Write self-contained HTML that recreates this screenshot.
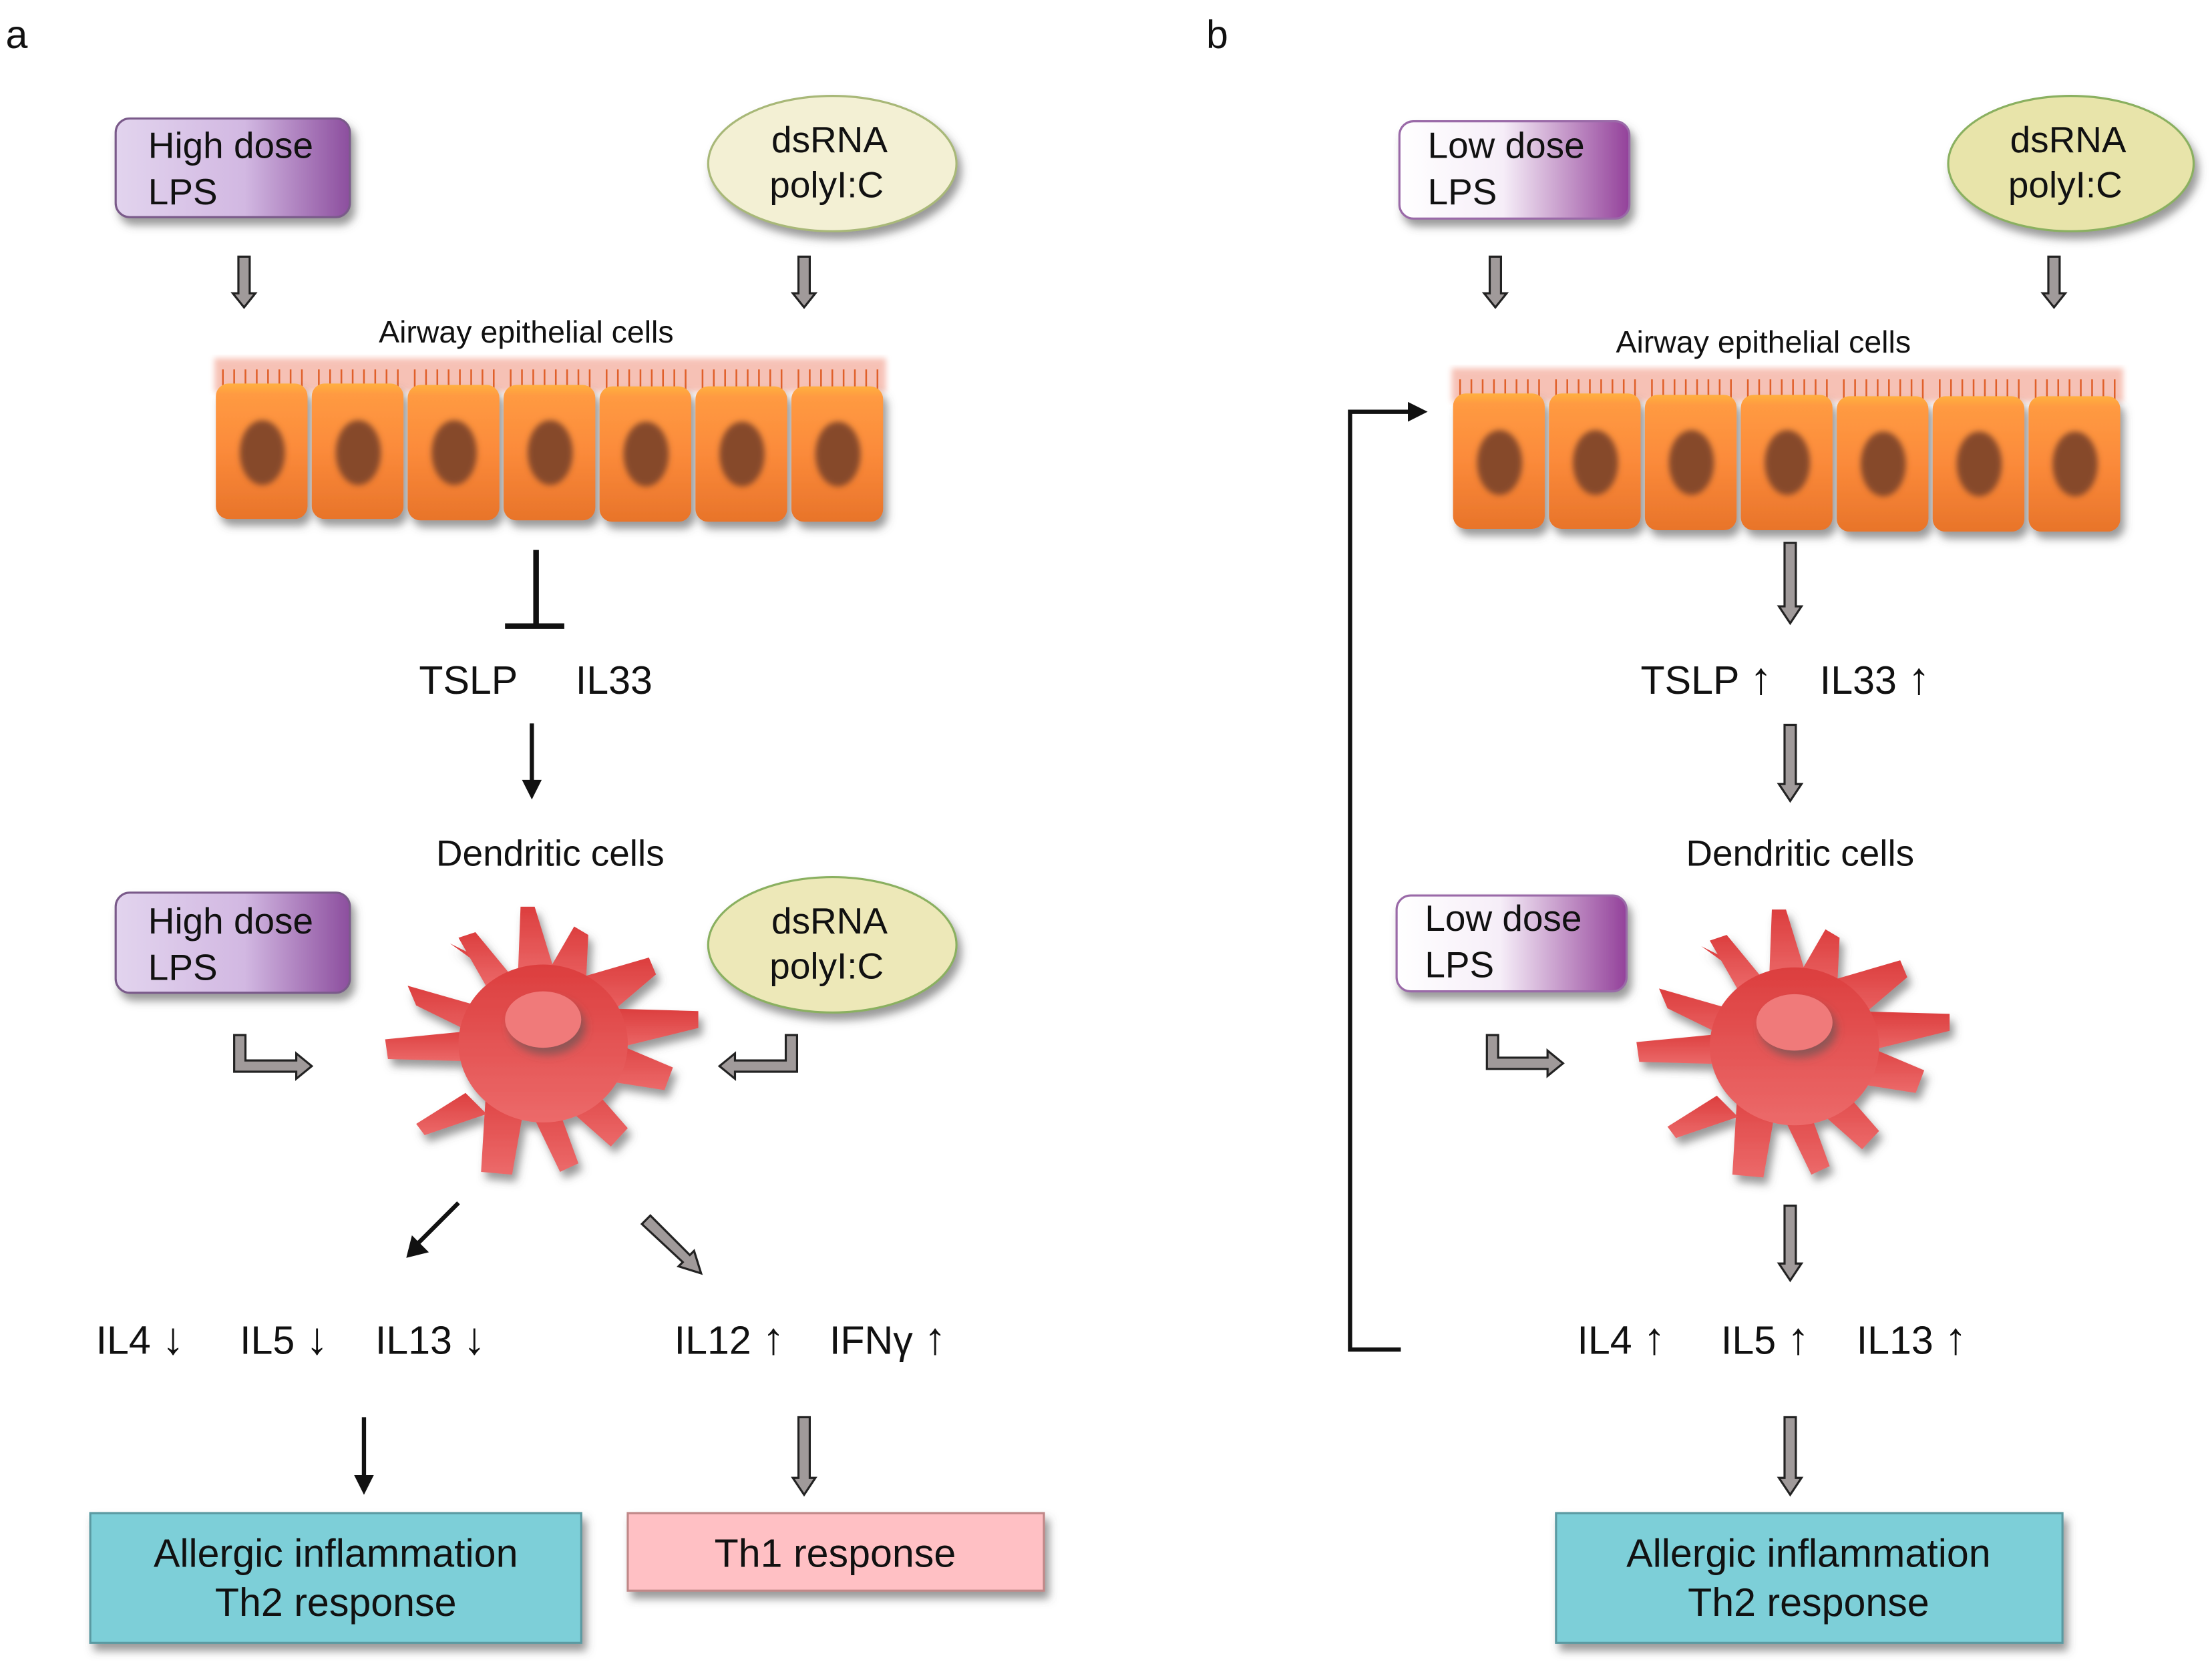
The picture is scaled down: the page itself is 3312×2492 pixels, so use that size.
<!DOCTYPE html>
<html><head><meta charset="utf-8"><style>
html,body{margin:0;padding:0;background:#fff;}
svg{display:block;}
text{font-family:"Liberation Sans",Arial,sans-serif;fill:#111;}
</style></head><body>
<svg width="3312" height="2492" viewBox="0 0 1568 1180" preserveAspectRatio="none" xmlns="http://www.w3.org/2000/svg">
<defs>
<linearGradient id="lpsH" x1="0" x2="1" y1="0" y2="0"><stop offset="0" stop-color="#e2d4ee"/><stop offset="0.55" stop-color="#d2b8e2"/><stop offset="1" stop-color="#8c4e9e"/></linearGradient>
<linearGradient id="lpsL" x1="0" x2="1" y1="0" y2="0"><stop offset="0" stop-color="#ffffff"/><stop offset="0.45" stop-color="#f6eef8"/><stop offset="1" stop-color="#93419a"/></linearGradient>
<linearGradient id="cell" x1="0" x2="0" y1="0" y2="1"><stop offset="0" stop-color="#ffb040"/><stop offset="0.08" stop-color="#ff9a42"/><stop offset="0.5" stop-color="#fb8a3a"/><stop offset="1" stop-color="#e8742a"/></linearGradient>
<linearGradient id="dc" x1="0" x2="0" y1="0" y2="1"><stop offset="0" stop-color="#dc3e3e"/><stop offset="1" stop-color="#ec6a6a"/></linearGradient>
<filter id="sh" x="-20%" y="-20%" width="140%" height="150%"><feDropShadow dx="3" dy="5" stdDeviation="3" flood-color="#555" flood-opacity="0.6"/></filter>
<filter id="bl"><feGaussianBlur stdDeviation="2"/></filter>
<g id="epi">
  <rect x="0" y="0" width="476" height="24" fill="#f0907a" opacity="0.55" filter="url(#bl)"/>
  <g stroke="#e0602a" stroke-width="1.2">
    <path d="M6 8V22M14 8V22M22 8V22M30 8V22M38 8V22M46 8V22M54 8V22M62 8V22M74 8V22M82 8V22M90 8V22M98 8V22M106 8V22M114 8V22M122 8V22M130 8V22M142 8V22M150 8V22M158 8V22M166 8V22M174 8V22M182 8V22M190 8V22M198 8V22M210 8V22M218 8V22M226 8V22M234 8V22M242 8V22M250 8V22M258 8V22M266 8V22M278 8V22M286 8V22M294 8V22M302 8V22M310 8V22M318 8V22M326 8V22M334 8V22M346 8V22M354 8V22M362 8V22M370 8V22M378 8V22M386 8V22M394 8V22M402 8V22M414 8V22M422 8V22M430 8V22M438 8V22M446 8V22M454 8V22M462 8V22M470 8V22"/>
  </g>
  <g filter="url(#sh)">
    <rect x="1" y="18" width="65" height="96" rx="9" fill="url(#cell)"/>
    <rect x="69" y="18" width="65" height="96" rx="9" fill="url(#cell)"/>
    <rect x="137" y="19" width="65" height="96" rx="9" fill="url(#cell)"/>
    <rect x="205" y="19" width="65" height="96" rx="9" fill="url(#cell)"/>
    <rect x="273" y="20" width="65" height="96" rx="9" fill="url(#cell)"/>
    <rect x="341" y="20" width="65" height="96" rx="9" fill="url(#cell)"/>
    <rect x="409" y="20" width="65" height="96" rx="9" fill="url(#cell)"/>
  </g>
  <g fill="#86492a" filter="url(#bl)">
    <ellipse cx="34" cy="67" rx="16" ry="23"/><ellipse cx="102" cy="67" rx="16" ry="23"/><ellipse cx="170" cy="67" rx="16" ry="23"/><ellipse cx="238" cy="67" rx="16" ry="23"/><ellipse cx="306" cy="68" rx="16" ry="23"/><ellipse cx="374" cy="68" rx="16" ry="23"/><ellipse cx="442" cy="68" rx="16" ry="23"/>
  </g>
</g>
<g id="dcell">
  <g filter="url(#sh)" fill="url(#dc)">
    <path d="M-18 -40 L-16 -92 L-6 -92 L10 -40Z"/>
    <path d="M0 -40 L22 -78 L32 -72 L30 -30Z"/>
    <path d="M20 -40 L75 -56 L80 -44 L40 -10Z"/>
    <path d="M40 -20 L110 -18 L110 -6 L45 10Z"/>
    <path d="M40 0 L92 22 L86 38 L35 30Z"/>
    <path d="M25 25 L60 65 L48 78 L5 40Z"/>
    <path d="M5 35 L25 90 L12 96 L-15 40Z"/>
    <path d="M-10 30 L-22 98 L-44 96 L-40 30Z"/>
    <path d="M-40 -5 L-112 2 L-110 16 L-35 18Z"/>
    <path d="M-40 -20 L-96 -36 L-90 -22 L-35 5Z"/>
    <path d="M-30 -40 L-66 -66 L-50 -58 L-10 -30Z"/>
    <path d="M-40 -35 L-60 -70 L-48 -74 L-20 -40Z"/>
    <path d="M-55 40 L-90 62 L-84 70 L-40 55Z"/>
    <ellipse cx="0" cy="5" rx="60" ry="56"/>
  </g>
  <ellipse cx="0" cy="-12" rx="27" ry="20" fill="#f07a7a" filter="url(#sh)"/>
</g>
</defs>

<!-- Panel a -->
<text x="4" y="34" font-size="28">a</text>
<rect x="82" y="84" width="166" height="70" rx="10" fill="url(#lpsH)" stroke="#7a5a8a" stroke-width="1.5" filter="url(#sh)"/>
<text x="105" y="112" font-size="26">High dose</text><text x="105" y="145" font-size="26">LPS</text>
<ellipse cx="590" cy="116" rx="88" ry="48" fill="#f3f0d4" stroke="#a8b878" stroke-width="1.5" filter="url(#sh)"/>
<text x="588" y="108" font-size="26" text-anchor="middle">dsRNA</text><text x="586" y="140" font-size="26" text-anchor="middle">polyI:C</text>
<g fill="#a09a9a" stroke="#222" stroke-width="1.5">
<polygon points="169,182 177,182 177,208 181,208 173,218 165,208 169,208"/>
<polygon points="566,182 574,182 574,208 578,208 570,218 562,208 566,208"/>
</g>
<text x="373" y="243" font-size="22" text-anchor="middle">Airway epithelial cells</text>
<use href="#epi" transform="translate(152,254)"/>
<path d="M380 390V444M358 444H400" stroke="#111" stroke-width="4" fill="none"/>
<text x="297" y="492" font-size="28">TSLP</text><text x="408" y="492" font-size="28">IL33</text>
<path d="M377 513V555" stroke="#111" stroke-width="3"/><polygon points="370,553 384,553 377,567" fill="#111"/>
<text x="390" y="614" font-size="26" text-anchor="middle">Dendritic cells</text>
<rect x="82" y="633" width="166" height="71" rx="10" fill="url(#lpsH)" stroke="#7a5a8a" stroke-width="1.5" filter="url(#sh)"/>
<text x="105" y="662" font-size="26">High dose</text><text x="105" y="695" font-size="26">LPS</text>
<ellipse cx="590" cy="670" rx="88" ry="48" fill="#ede8b8" stroke="#8ab060" stroke-width="1.5" filter="url(#sh)"/>
<text x="588" y="662" font-size="26" text-anchor="middle">dsRNA</text><text x="586" y="694" font-size="26" text-anchor="middle">polyI:C</text>
<use href="#dcell" transform="translate(385,735)"/>
<g fill="#a09a9a" stroke="#222" stroke-width="1.5">
<polygon points="166,734 174,734 174,752 210,752 210,747 221,756 210,765 210,760 166,760"/>
<polygon points="565,734 557,734 557,752 521,752 521,747 510,756 521,765 521,760 565,760"/>
<polygon points="455,868 461,862 489,890 492,887 497,903 481,898 484,895"/>
<polygon points="566,1005 574,1005 574,1048 578,1048 570,1060 562,1048 566,1048"/>
</g>
<path d="M325 853L296 882" stroke="#111" stroke-width="3"/><polygon points="288,892 292,876 304,888" fill="#111"/>
<g font-size="28">
<text x="68" y="960">IL4 <tspan font-size="32">↓</tspan></text><text x="170" y="960">IL5 <tspan font-size="32">↓</tspan></text><text x="266" y="960">IL13 <tspan font-size="32">↓</tspan></text>
<text x="478" y="960">IL12 <tspan font-size="32">↑</tspan></text><text x="588" y="960">IFNγ <tspan font-size="32">↑</tspan></text>
</g>
<path d="M258 1005V1048" stroke="#111" stroke-width="3"/><polygon points="251,1046 265,1046 258,1060" fill="#111"/>
<rect x="64" y="1073" width="348" height="92" fill="#7dcfd8" stroke="#5a9aa2" stroke-width="1.5" filter="url(#sh)"/>
<text x="238" y="1111" font-size="28" text-anchor="middle">Allergic inflammation</text><text x="238" y="1146" font-size="28" text-anchor="middle">Th2 response</text>
<rect x="445" y="1073" width="295" height="55" fill="#ffc0c4" stroke="#c08888" stroke-width="1.5" filter="url(#sh)"/>
<text x="592" y="1111" font-size="28" text-anchor="middle">Th1 response</text>

<!-- Panel b -->
<text x="855" y="34" font-size="28">b</text>
<rect x="992" y="86" width="163" height="69" rx="10" fill="url(#lpsL)" stroke="#9a6aa8" stroke-width="1.5" filter="url(#sh)"/>
<text x="1012" y="112" font-size="26">Low dose</text><text x="1012" y="145" font-size="26">LPS</text>
<ellipse cx="1468" cy="116" rx="87" ry="48" fill="#e8e4aa" stroke="#8ab060" stroke-width="1.5" filter="url(#sh)"/>
<text x="1466" y="108" font-size="26" text-anchor="middle">dsRNA</text><text x="1464" y="140" font-size="26" text-anchor="middle">polyI:C</text>
<g fill="#a09a9a" stroke="#222" stroke-width="1.5">
<polygon points="1056,182 1064,182 1064,208 1068,208 1060,218 1052,208 1056,208"/>
<polygon points="1452,182 1460,182 1460,208 1464,208 1456,218 1448,208 1452,208"/>
<polygon points="1265,385 1273,385 1273,430 1277,430 1269,442 1261,430 1265,430"/>
<polygon points="1265,514 1273,514 1273,556 1277,556 1269,568 1261,556 1265,556"/>
<polygon points="1054,734 1062,734 1062,750 1097,750 1097,745 1108,754 1097,763 1097,758 1054,758"/>
<polygon points="1265,855 1273,855 1273,896 1277,896 1269,908 1261,896 1265,896"/>
<polygon points="1265,1005 1273,1005 1273,1048 1277,1048 1269,1060 1261,1048 1265,1048"/>
</g>
<text x="1250" y="250" font-size="22" text-anchor="middle">Airway epithelial cells</text>
<use href="#epi" transform="translate(1029,261)"/>
<path d="M993 957H957V292H1000" stroke="#111" stroke-width="3" fill="none"/><polygon points="998,285 1012,292 998,299" fill="#111"/>
<g font-size="28">
<text x="1163" y="492">TSLP <tspan font-size="32">↑</tspan></text><text x="1290" y="492">IL33 <tspan font-size="32">↑</tspan></text>
</g>
<text x="1276" y="614" font-size="26" text-anchor="middle">Dendritic cells</text>
<rect x="990" y="635" width="163" height="68" rx="10" fill="url(#lpsL)" stroke="#9a6aa8" stroke-width="1.5" filter="url(#sh)"/>
<text x="1010" y="660" font-size="26">Low dose</text><text x="1010" y="693" font-size="26">LPS</text>
<use href="#dcell" transform="translate(1272,737)"/>
<g font-size="28">
<text x="1118" y="960">IL4 <tspan font-size="32">↑</tspan></text><text x="1220" y="960">IL5 <tspan font-size="32">↑</tspan></text><text x="1316" y="960">IL13 <tspan font-size="32">↑</tspan></text>
</g>
<rect x="1103" y="1073" width="359" height="92" fill="#7dcfd8" stroke="#5a9aa2" stroke-width="1.5" filter="url(#sh)"/>
<text x="1282" y="1111" font-size="28" text-anchor="middle">Allergic inflammation</text><text x="1282" y="1146" font-size="28" text-anchor="middle">Th2 response</text>
</svg>
</body></html>
